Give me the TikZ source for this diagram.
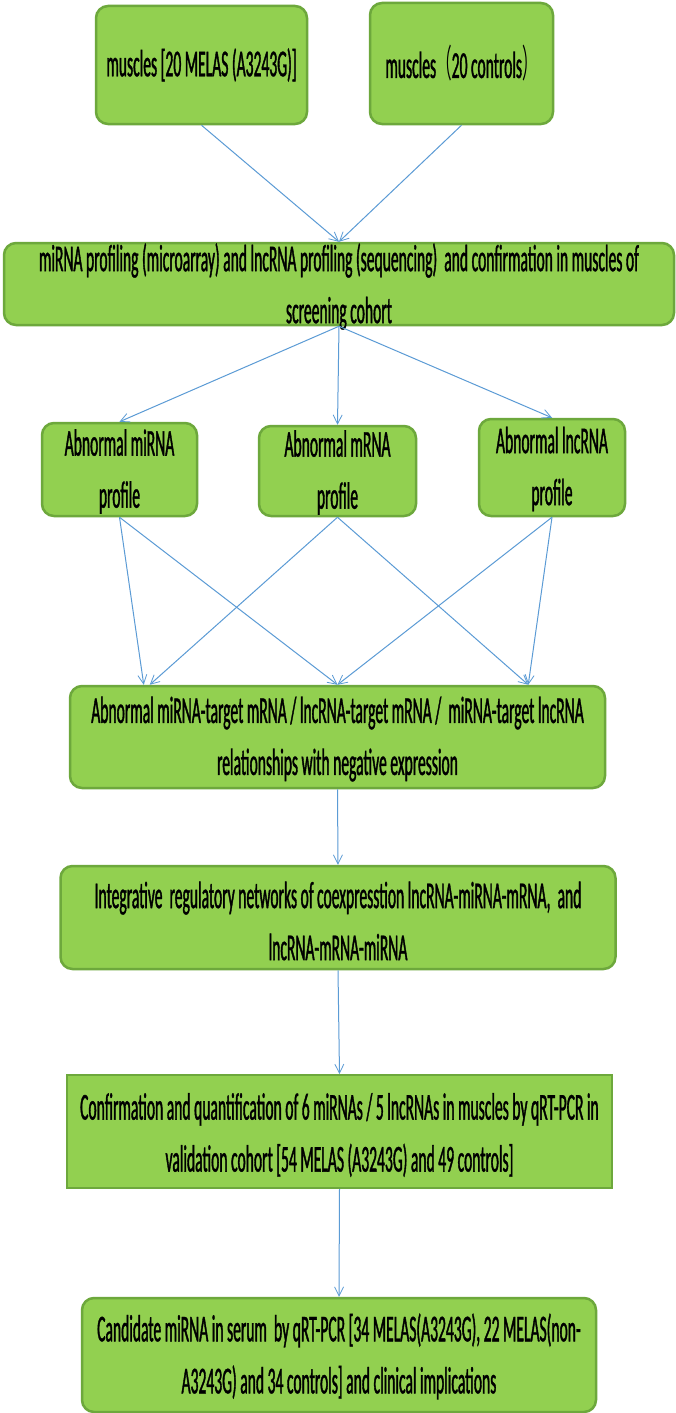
\documentclass[tikz,border=0pt]{standalone}
\usepackage{fontspec}
\newfontfamily\condfont[FakeStretch=0.41,FakeBold=1]{Carlito}
\newfontfamily\cjkfont[FakeStretch=0.41]{Noto Sans CJK SC}
\usetikzlibrary{arrows.meta}
\definecolor{boxfill}{HTML}{92D050}
\definecolor{boxline}{HTML}{6DA83C}
\definecolor{arrowblue}{HTML}{5B9BD5}
\tikzset{
  x=1pt, y=-1pt,
  greenbox/.style={draw=boxline, fill=boxfill, line width=2.5pt, rounded corners=12pt, inner sep=0pt},
  sharpbox/.style={draw=boxline, fill=boxfill, line width=2pt, inner sep=0pt},
  txt/.style={font=\condfont\fontsize{38}{52}\selectfont, align=center, inner sep=0pt, text=black},
  conn/.style={draw=arrowblue, line width=1pt, -{Straight Barb[length=9pt,width=9pt,line width=0.8pt]}, shorten >=0pt},
}
\begin{document}
\begin{tikzpicture}
\useasboundingbox (0,0) rectangle (675,1413);
\fill[white] (0,0) rectangle (675,1413);

\node[greenbox, minimum width=211pt, minimum height=118pt] (b1) at (201.5,65) {};
\node[txt] (b1t) at (b1.center) {muscles [20 MELAS (A3243G)]};
\node[greenbox, minimum width=183pt, minimum height=121pt] (b2) at (461.5,63.5) {};
\node[txt] (b2t) at (b2.center) {muscles{\cjkfont（}20 controls{\cjkfont）}};

\node[greenbox, minimum width=670pt, minimum height=82pt] (b3) at (339,284) {};
\node[txt] (b3t) at (339,286.5) {miRNA profiling (microarray) and lncRNA profiling (sequencing)\ \ and confirmation in muscles of\\screening cohort};

\node[greenbox, minimum width=155pt, minimum height=93pt] (m1) at (119.5,469.5) {};
\node[txt] (m1t) at (119.5,471.5) {Abnormal miRNA\\profile};
\node[greenbox, minimum width=157pt, minimum height=90pt] (m2) at (337.5,471) {};
\node[txt] (m2t) at (337.5,472.5) {Abnormal mRNA\\profile};
\node[greenbox, minimum width=146pt, minimum height=97pt] (m3) at (552,467.5) {};
\node[txt] (m3t) at (552,469) {Abnormal lncRNA\\profile};

\node[greenbox, minimum width=535pt, minimum height=102pt] (b4) at (337.5,737) {};
\node[txt] (b4t) at (337.5,739) {Abnormal miRNA-target mRNA / lncRNA-target mRNA /\ \ miRNA-target lncRNA\\relationships with negative expression};

\node[greenbox, minimum width=555pt, minimum height=103pt] (b5) at (338,917.5) {};
\node[txt] (b5t) at (338,921) {Integrative\ \ regulatory networks of coexpresstion lncRNA-miRNA-mRNA,\ \ and\\lncRNA-mRNA-miRNA};

\node[sharpbox, minimum width=545pt, minimum height=113pt] (b6) at (339.5,1131.5) {};
\node[txt] (b6t) at (339.5,1135) {Confirmation and quantification of 6 miRNAs / 5 lncRNAs in muscles by qRT-PCR in\\validation cohort [54 MELAS (A3243G) and 49 controls]};

\node[greenbox, minimum width=514pt, minimum height=114pt] (b7) at (339,1355) {};
\node[txt] (b7t) at (339,1356.5) {Candidate miRNA in serum\ \ by qRT-PCR [34 MELAS(A3243G), 22 MELAS(non-\\A3243G) and 34 controls] and clinical implications};

\draw[conn] (b1.south) -- (b3.north);
\draw[conn] (b2.south) -- (b3.north);
\draw[conn] (b3.south) -- (m1.north);
\draw[conn] (b3.south) -- (m2.north);
\draw[conn] (b3.south) -- (m3.north);
\draw[conn] (m1.south) -- ([xshift=75pt]b4.north west);
\draw[conn] (m1.south) -- (b4.north);
\draw[conn] (m2.south) -- ([xshift=81pt]b4.north west);
\draw[conn] (m2.south) -- ([xshift=-78pt]b4.north east);
\draw[conn] (m3.south) -- (b4.north);
\draw[conn] (m3.south) -- ([xshift=-78pt]b4.north east);
\draw[conn] (b4.south) -- (b5.north);
\draw[conn] (b5.south) -- (b6.north);
\draw[conn] (b6.south) -- (b7.north);
\end{tikzpicture}
\end{document}
